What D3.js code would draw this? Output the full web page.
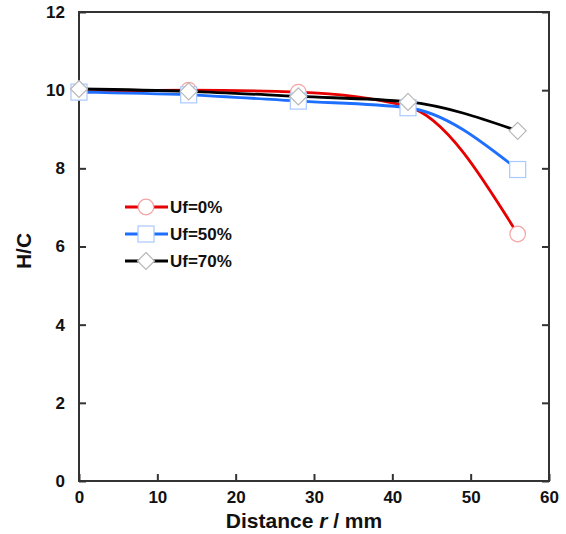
<!DOCTYPE html>
<html>
<head>
<meta charset="utf-8">
<script src="https://cdn.jsdelivr.net/npm/d3@7"></script>
<style>
  body { margin: 0; background: #fff; }
  text { font-family: "Liberation Sans", Arial, sans-serif; font-weight: bold; }
</style>
</head>
<body>
<div id="chart"></div>
<script>
// ===========================================================
// DATA
// ===========================================================
var distances = [0, 14, 28, 42, 56];
var uf0 = [9.95, 10.0, 9.95, 9.58, 6.32];
var uf50 = [9.95, 9.88, 9.72, 9.55, 7.97];
var uf70 = [10.03, 9.97, 9.84, 9.7, 8.96];
var seriesNames = ["Uf=0%", "Uf=50%", "Uf=70%"];
var xTicks = [0, 10, 20, 30, 40, 50, 60];
var yTicks = [0, 2, 4, 6, 8, 10, 12];

// ===========================================================
// SET MARGINS
// ===========================================================
var svgWidth = 566;
var svgHeight = 534;
var margin = {top: 12, right: 17, bottom: 53, left: 79};
var width = svgWidth - margin.left - margin.right;
var height = svgHeight - margin.top - margin.bottom;

var svg = d3.select('#chart')
    .append('svg')
    .attr('width', svgWidth)
    .attr('height', svgHeight);

var chartGroup = svg.append('g')
    .attr('transform', `translate(${margin.left}, ${margin.top})`);

// ===========================================================
// SCALES
// ===========================================================
var x = d3.scaleLinear().domain([0, 60]).range([0, width]);
var y = d3.scaleLinear().domain([0, 12]).range([height, 0]);

// frame
chartGroup.append('rect')
    .attr('x', 0).attr('y', 0)
    .attr('width', width).attr('height', height)
    .attr('fill', 'none')
    .attr('stroke', '#333')
    .attr('stroke-width', 2);

// bottom axis, ticks inside
var xAxis = chartGroup.append('g')
    .attr('transform', `translate(0, ${height})`)
    .call(d3.axisBottom(x).tickValues(xTicks).tickSizeInner(-7).tickSizeOuter(0).tickPadding(10));
xAxis.select('.domain').remove();
xAxis.selectAll('line').attr('stroke', '#333').attr('stroke-width', 2);
xAxis.selectAll('text').style('font-size', '17px').attr('fill', '#111');

// left axis
var yAxis = chartGroup.append('g')
    .call(d3.axisLeft(y).tickValues(yTicks).tickSizeInner(-7).tickSizeOuter(0).tickPadding(14));
yAxis.select('.domain').remove();
yAxis.selectAll('line').attr('stroke', '#333').attr('stroke-width', 2);
yAxis.selectAll('text').style('font-size', '17px').attr('fill', '#111');

// right axis ticks only
var yAxisR = chartGroup.append('g')
    .attr('transform', `translate(${width}, 0)`)
    .call(d3.axisRight(y).tickValues(yTicks).tickSizeInner(-7).tickSizeOuter(0).tickFormat(''));
yAxisR.select('.domain').remove();
yAxisR.selectAll('line').attr('stroke', '#333').attr('stroke-width', 2);

// axis titles
var xTitle = svg.append('text')
    .attr('x', 304)
    .attr('y', 528)
    .attr('text-anchor', 'middle')
    .style('font-size', '21px')
    .attr('fill', '#111');
xTitle.append('tspan').text('Distance ');
xTitle.append('tspan').text('r').style('font-style', 'italic');
xTitle.append('tspan').text(' / mm');

svg.append('text')
    .attr('transform', 'translate(31, 251) rotate(-90)')
    .attr('text-anchor', 'middle')
    .style('font-size', '21px')
    .attr('fill', '#111')
    .text('H/C');

// ===========================================================
// LINES & MARKERS
// ===========================================================
var series = [
    {name: seriesNames[0], values: uf0, line: '#e60000', marker: '#f5a3a3', shape: 'circle'},
    {name: seriesNames[1], values: uf50, line: '#1f6fff', marker: '#a9c9ff', shape: 'square'},
    {name: seriesNames[2], values: uf70, line: '#000000', marker: '#b8b8b8', shape: 'diamond'}
];

var line = d3.line()
    .x((d, i) => x(distances[i]))
    .y(d => y(d))
    .curve(d3.curveMonotoneX);

series.forEach(function(s) {
    chartGroup.append('path')
        .datum(s.values)
        .attr('fill', 'none')
        .attr('stroke', s.line)
        .attr('stroke-width', 2.8)
        .attr('d', line);
});

function drawMarker(g, shape, color, cx, cy) {
    if (shape === 'circle') {
        g.append('circle').attr('cx', cx).attr('cy', cy).attr('r', 7.8)
            .attr('fill', '#fff').attr('stroke', color).attr('stroke-width', 1.2);
    } else if (shape === 'square') {
        g.append('rect').attr('x', cx - 8).attr('y', cy - 8).attr('width', 16).attr('height', 16)
            .attr('fill', '#fff').attr('stroke', color).attr('stroke-width', 1.2);
    } else {
        g.append('path')
            .attr('d', `M${cx},${cy - 8.5}L${cx + 8.5},${cy}L${cx},${cy + 8.5}L${cx - 8.5},${cy}Z`)
            .attr('fill', '#fff').attr('stroke', color).attr('stroke-width', 1.2);
    }
}

var markerGroup = chartGroup.append('g');
series.forEach(function(s) {
    s.values.forEach(function(v, i) {
        drawMarker(markerGroup, s.shape, s.marker, x(distances[i]), y(v));
    });
});

// ===========================================================
// LEGEND
// ===========================================================
var legend = svg.append('g');
series.forEach(function(s, i) {
    var ly = 207 + i * 27;
    legend.append('line')
        .attr('x1', 125).attr('x2', 168)
        .attr('y1', ly).attr('y2', ly)
        .attr('stroke', s.line).attr('stroke-width', 2.8);
    drawMarker(legend, s.shape, s.marker, 146, ly);
    legend.append('text')
        .attr('x', 170).attr('y', ly + 6)
        .style('font-size', '17px')
        .attr('fill', '#111')
        .text(s.name);
});
</script>
</body>
</html>
